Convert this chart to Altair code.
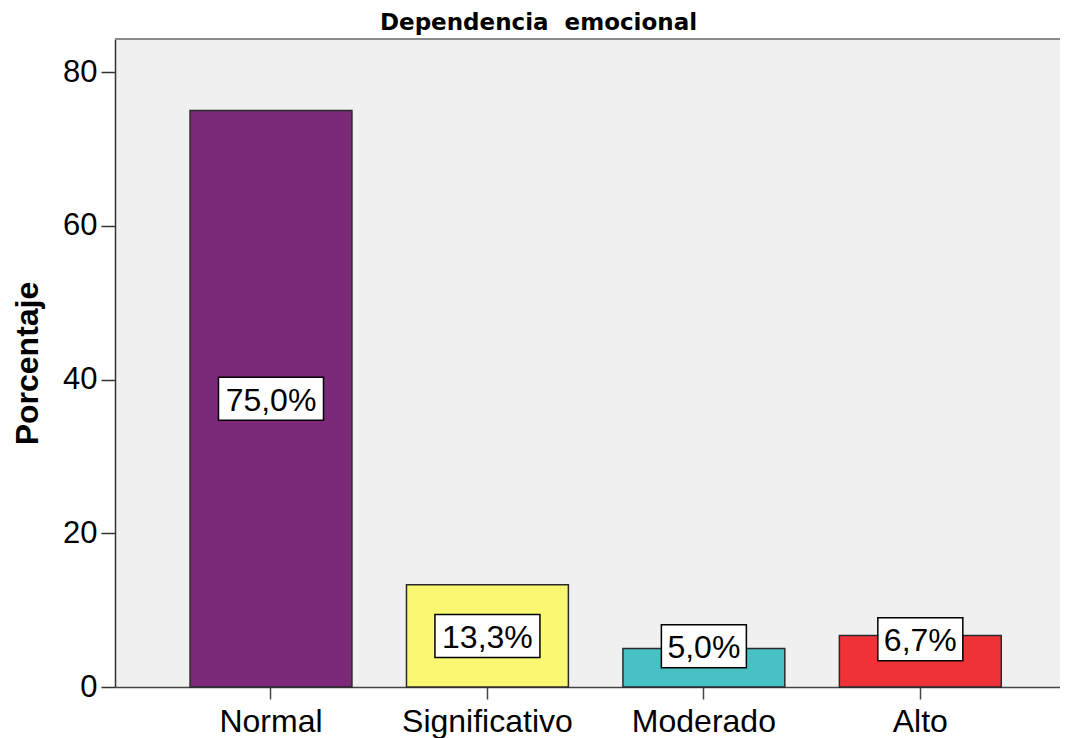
import altair as alt
import pandas as pd

categories = ["Normal", "Significativo", "Moderado", "Alto"]
percentages = [75.0, 13.3, 5.0, 6.7]
labels = ["75,0%", "13,3%", "5,0%", "6,7%"]
colors = ["#7b2978", "#faf773", "#48c1c4", "#f03338"]
y_ticks = [0, 20, 40, 60, 80]
chart_title = "Dependencia\u00a0 emocional"

W, H = 945, 648
Y_MAX = 84.3
px_per_unit = H / Y_MAX

df = pd.DataFrame({"cat": categories, "pct": percentages, "label": labels})
box_half = 21.5 / px_per_unit
df["ymid"] = [max(v / 2, min(v + 0.3, 6.2)) for v in percentages]
df["ylo"] = df["ymid"] - box_half
df["yhi"] = df["ymid"] + box_half
df["boxw"] = [20 * len(t) + 5 for t in labels]

x_enc = alt.X(
    "cat:N", sort=categories, title=None,
    scale=alt.Scale(paddingInner=0.252, paddingOuter=0.309, align=0.561),
    axis=alt.Axis(labelAngle=0, labelFont="Liberation Sans", labelFontSize=32,
                  labelColor="black", labelBaseline="alphabetic", labelPadding=32,
                  tickSize=12, tickColor="#444", tickWidth=1.5,
                  domainColor="#444", domainWidth=1.5),
)
y_scale = alt.Scale(domain=[0, Y_MAX], nice=False, zero=True)
y_axis = alt.Axis(values=y_ticks, grid=False, title="Porcentaje",
                  titleFont="Liberation Sans", titleFontSize=32, titleFontWeight="bold",
                  titleColor="black", titleBaseline="alphabetic", titleX=-78, titleY=H / 2,
                  titleAngle=270,
                  labelFont="Liberation Sans", labelFontSize=31, labelColor="black",
                  labelPadding=4, tickSize=14, tickColor="#333", tickWidth=1.5,
                  domainColor="#333", domainWidth=1.5)

bars = alt.Chart(df).mark_bar(stroke="#2a2a2a", strokeWidth=1.5).encode(
    x=x_enc,
    y=alt.Y("pct:Q", scale=y_scale, axis=y_axis),
    color=alt.Color("cat:N", scale=alt.Scale(domain=categories, range=colors), legend=None),
)

boxes = alt.Chart(df).mark_bar(fill="white", stroke="black", strokeWidth=1.5).encode(
    x=x_enc,
    y=alt.Y("ylo:Q", scale=y_scale),
    y2="yhi:Q",
    size=alt.Size("boxw:Q", scale=None),
)

texts = alt.Chart(df).mark_text(font="Liberation Sans", fontSize=32, color="black",
                                baseline="middle", dy=2).encode(
    x=x_enc,
    y=alt.Y("ymid:Q", scale=y_scale),
    text="label:N",
)

top_border = alt.Chart(df).mark_rule(color="#8a8a8a", strokeWidth=2).encode(
    x=alt.value(0), x2=alt.value(W), y=alt.value(0)
)

title_text = alt.Chart(pd.DataFrame({"t": [chart_title]})).mark_text(
    font="DejaVu Sans", fontSize=23, fontWeight="bold", color="black",
    baseline="alphabetic", align="center"
).encode(x=alt.value(538.5 - 115), y=alt.value(-9), text="t:N")

chart = alt.layer(bars, boxes, texts, top_border, title_text).properties(
    width=W, height=H,
    padding={"left": 107, "top": 31, "right": 0, "bottom": 52},
    autosize="none",
).configure_view(fill="#f0f0f0", stroke=None)

chart.save("out.html", embed_options={"renderer": "svg", "actions": False})
